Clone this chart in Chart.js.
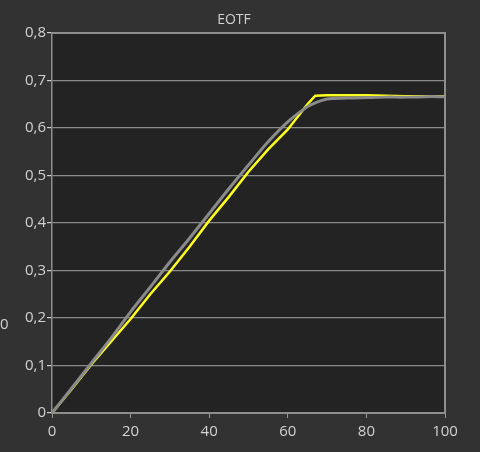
<!DOCTYPE html>
<html>
<head>
<meta charset="utf-8">
<script src="https://cdn.jsdelivr.net/npm/chart.js@4.4.1/dist/chart.umd.min.js"></script>
<style>
  html, body { margin: 0; padding: 0; background: #323232; }
  #wrap { width: 480px; height: 452px; }
</style>
</head>
<body>
<div id="wrap"><canvas id="eotf"></canvas></div>
<script>
  // stimulus level (%)
  const levels = [0, 5, 10, 15, 20, 25, 30, 35, 40, 45, 50, 55, 60, 65, 67, 70, 75, 80, 85, 90, 95, 100];
  // target curve (gray)
  const target = [0, 0.052, 0.105, 0.157, 0.213, 0.265, 0.318, 0.368, 0.42, 0.472, 0.522, 0.571, 0.613, 0.645, 0.653, 0.661, 0.663, 0.664, 0.665, 0.665, 0.666, 0.666];
  // measured curve (yellow)
  const measured = [0, 0.05, 0.102, 0.15, 0.198, 0.25, 0.298, 0.35, 0.405, 0.455, 0.508, 0.555, 0.597, 0.65, 0.668, 0.669, 0.669, 0.669, 0.668, 0.667, 0.667, 0.667];
  const xTicks = [0, 20, 40, 60, 80, 100];
  const yTicks = [0, 0.1, 0.2, 0.3, 0.4, 0.5, 0.6, 0.7, 0.8];

  const toPoints = (ys) => levels.map((x, i) => ({ x: x, y: ys[i] }));

  const txt = '#d2d2d2';
  const fontFam = '"Open Sans", "Noto Sans", "DejaVu Sans", sans-serif';

  // plot background, frame, title and the stray label on the left
  const decor = {
    id: 'decor',
    beforeDraw(chart) {
      const { ctx, chartArea: a } = chart;
      ctx.save();
      ctx.fillStyle = '#232323';
      ctx.fillRect(a.left, a.top, a.right - a.left, a.bottom - a.top);
      ctx.restore();
    },
    beforeDatasetsDraw(chart) {
      const { ctx, chartArea: a } = chart;
      ctx.save();
      ctx.strokeStyle = '#8e8e8e';
      ctx.lineWidth = 2;
      ctx.beginPath();
      ctx.moveTo(a.left, a.top);
      ctx.lineTo(a.right, a.top);
      ctx.lineTo(a.right, a.bottom);
      ctx.stroke();
      ctx.restore();
    },
    afterDraw(chart) {
      const { ctx } = chart;
      ctx.save();
      ctx.fillStyle = txt;
      ctx.font = '14px ' + fontFam;
      ctx.textAlign = 'center';
      ctx.textBaseline = 'middle';
      ctx.fillText('EOTF', 234, 20);
      ctx.font = '15px ' + fontFam;
      ctx.textAlign = 'left';
      ctx.fillText('0', 0, 325);
      ctx.restore();
    }
  };

  new Chart(document.getElementById('eotf'), {
    type: 'line',
    data: {
      datasets: [
        {
          data: toPoints(target),
          borderColor: '#8a8a8a',
          borderWidth: 3,
          pointRadius: 0,
          tension: 0.3,
          fill: false
        },
        {
          data: toPoints(measured),
          borderColor: '#ffff1e',
          borderWidth: 2.5,
          pointRadius: 0,
          tension: 0,
          fill: false
        }
      ]
    },
    options: {
      responsive: true,
      maintainAspectRatio: false,
      animation: false,
      events: [],
      layout: { padding: { top: 33, right: 35, left: 0, bottom: 0 } },
      plugins: {
        legend: { display: false },
        title: { display: false },
        tooltip: { enabled: false }
      },
      scales: {
        x: {
          type: 'linear',
          min: 0,
          max: 100,
          afterFit: (s) => { s.height = 39; },
          afterBuildTicks: (s) => { s.ticks = xTicks.map(v => ({ value: v })); },
          grid: {
            drawOnChartArea: false,
            drawTicks: true,
            tickLength: 5,
            color: '#9a9a9a'
          },
          border: { color: '#8e8e8e', width: 2 },
          ticks: {
            color: txt,
            padding: 5,
            maxRotation: 0,
            font: { size: 15, family: fontFam }
          }
        },
        y: {
          min: 0,
          max: 0.8,
          afterFit: (s) => { s.width = 52; },
          afterBuildTicks: (s) => { s.ticks = yTicks.map(v => ({ value: v })); },
          grid: {
            color: '#8a8a8a',
            lineWidth: 1.2,
            tickLength: 5,
            tickColor: '#cfcfcf'
          },
          border: { color: '#8e8e8e', width: 1.5 },
          ticks: {
            color: txt,
            padding: 1,
            font: { size: 15, family: fontFam },
            callback: (v) => v === 0 ? '0' : v.toFixed(1).replace('.', ',')
          }
        }
      }
    },
    plugins: [decor]
  });
</script>
</body>
</html>
